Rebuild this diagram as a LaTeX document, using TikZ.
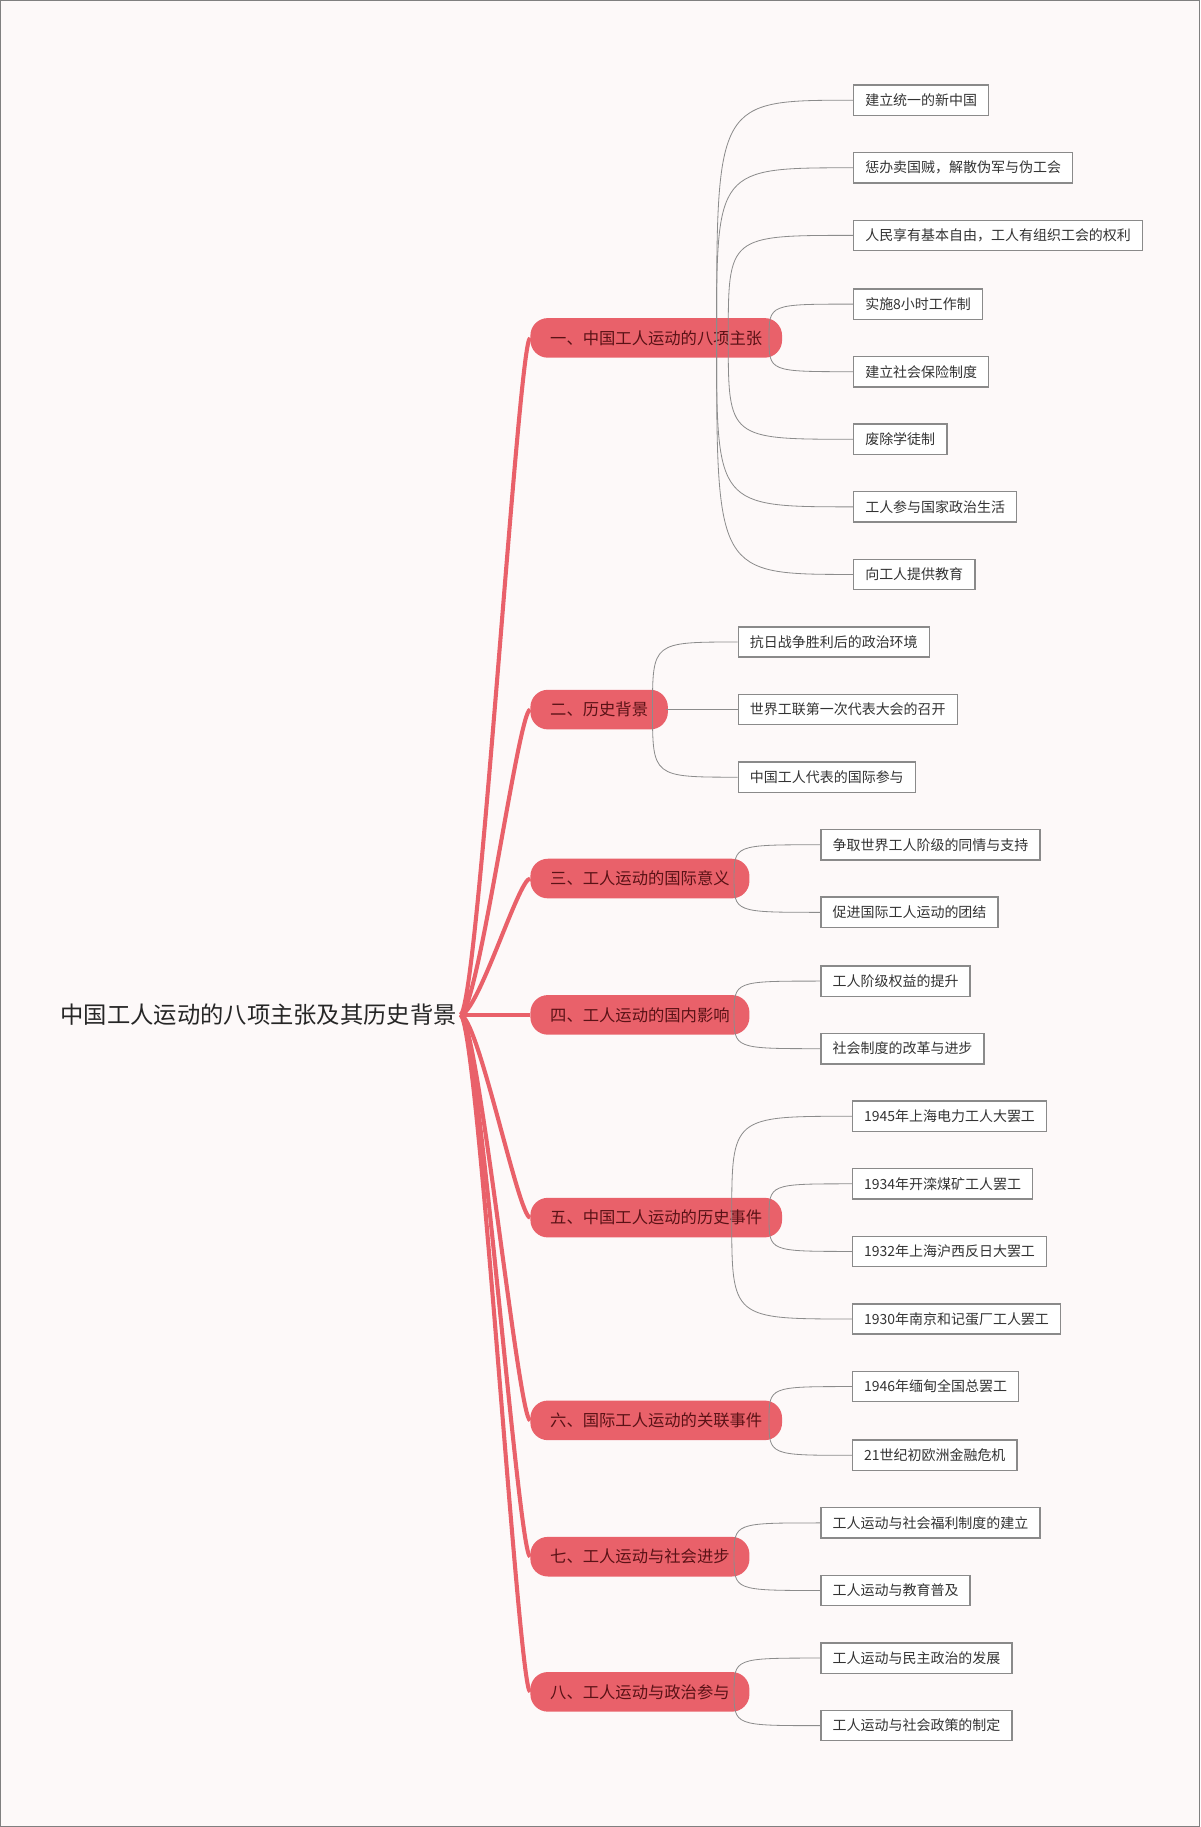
\documentclass[tikz,border=0pt]{standalone}
\usepackage{fontspec}
\setmainfont{Noto Sans CJK SC}
\begin{document}
\begin{tikzpicture}[x=1pt,y=-1pt,
  mainbox/.style={fill=mainpink,rounded corners=15pt,minimum height=34pt,inner xsep=17pt,anchor=west,font=\fontsize{14}{16}\selectfont,text=textred},
  leafbox/.style={draw=leafgray,line width=1.2pt,fill=white,minimum height=26pt,inner xsep=10pt,anchor=west,font=\fontsize{12}{14}\selectfont,text=black!80},
  thick link/.style={draw=mainpink,line width=3.5pt},
  thin link/.style={draw=black!45,line width=0.7pt}]
\definecolor{mainpink}{HTML}{E9616A}
\definecolor{textred}{HTML}{5A1216}
\definecolor{leafgray}{HTML}{8A8A8A}
\useasboundingbox (0,0) rectangle (1030,1568);
\draw[draw=black!50,fill={rgb,255:red,253;green,249;blue,249}] (0.5,0.5) rectangle (1029.5,1567.5);
\node[font=\fontsize{20}{22}\selectfont,text=black!85] (root) at (222,871) {中国工人运动的八项主张及其历史背景};
\coordinate (r) at (395,871);
\foreach \n/\y/\t in {m1/290/一、中国工人运动的八项主张,m2/609/二、历史背景,m3/754/三、工人运动的国际意义,m4/871/四、工人运动的国内影响,m5/1045/五、中国工人运动的历史事件,m6/1219/六、国际工人运动的关联事件,m7/1336/七、工人运动与社会进步,m8/1452/八、工人运动与政治参与}{
  \node[mainbox] (\n) at (455,\y) {\t};
  \draw[thick link] (r) .. controls (410,871) and (445,\y) .. (\n.west);
}
\foreach \p/\l/\x/\y/\t/\sx in {
 m1/a1/732/86/建立统一的新中国/615,
 m1/a2/732/144/惩办卖国贼，解散伪军与伪工会/615,
 m1/a3/732/202/人民享有基本自由，工人有组织工会的权利/625,
 m1/a4/732/261/实施8小时工作制/660,
 m1/a5/732/319/建立社会保险制度/660,
 m1/a6/732/377/废除学徒制/625,
 m1/a7/732/435/工人参与国家政治生活/615,
 m1/a8/732/493/向工人提供教育/615,
 m2/b1/633/551/抗日战争胜利后的政治环境/560,
 m2/b2/633/609/世界工联第一次代表大会的召开/572,
 m2/b3/633/667/中国工人代表的国际参与/560,
 m3/c1/704/725/争取世界工人阶级的同情与支持/630,
 m3/c2/704/783/促进国际工人运动的团结/630,
 m4/d1/704/842/工人阶级权益的提升/630,
 m4/d2/704/900/社会制度的改革与进步/630,
 m5/e1/731/958/1945年上海电力工人大罢工/628,
 m5/e2/731/1016/1934年开滦煤矿工人罢工/660,
 m5/e3/731/1074/1932年上海沪西反日大罢工/660,
 m5/e4/731/1132/1930年南京和记蛋厂工人罢工/628,
 m6/f1/731/1190/1946年缅甸全国总罢工/660,
 m6/f2/731/1249/21世纪初欧洲金融危机/660,
 m7/g1/704/1307/工人运动与社会福利制度的建立/630,
 m7/g2/704/1365/工人运动与教育普及/630,
 m8/h1/704/1423/工人运动与民主政治的发展/630,
 m8/h2/704/1481/工人运动与社会政策的制定/630}{
  \node[leafbox] (\l) at (\x,\y) {\t};
  \draw[thin link] (\sx,0 |- \p.center) .. controls (\sx,\y) .. (\l.west);
}
\end{tikzpicture}
\end{document}
